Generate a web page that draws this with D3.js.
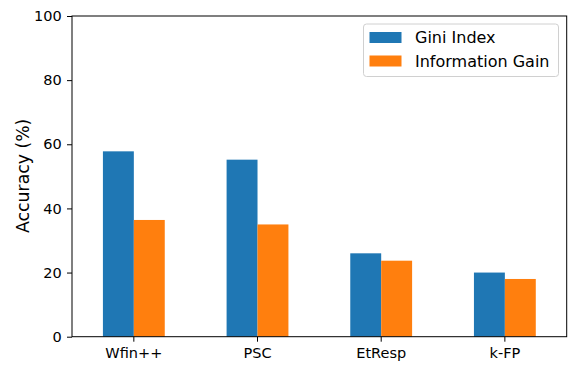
<!DOCTYPE html>
<html><head><meta charset="utf-8">
<script src="https://cdn.jsdelivr.net/npm/d3@7"></script>
<style>body{margin:0;background:#fff}svg{display:block}text{font-family:"DejaVu Sans",sans-serif;fill:#000}</style>
</head><body><svg id="c" width="582" height="372"></svg>
<script>
const categories = ["Wfin++", "PSC", "EtResp", "k-FP"];
const seriesNames = ["Gini Index", "Information Gain"];
const giniIndex = [57.8, 55.2, 26.0, 20.0];
const infoGain = [36.4, 35.0, 23.7, 18.0];
const yTicks = [0, 20, 40, 60, 80, 100];
const colors = ["#1f77b4", "#ff7f0e"];

const svg = d3.select("#c");
const L = 72, R = 566.7, T = 16, B = 336.7;
const x = d3.scaleBand().domain(categories).range([L, R]).paddingInner(0.5).paddingOuter(0.25);
const xs = d3.scaleBand().domain(seriesNames).range([0, x.bandwidth()]);
const y = d3.scaleLinear().domain([0, 100]).range([B, T]);
const series = [giniIndex, infoGain];

const g = svg.append("g");
series.forEach((vals, si) => {
  g.selectAll(null).data(categories).enter().append("rect")
    .attr("x", d => x(d) + xs(seriesNames[si]))
    .attr("width", xs.bandwidth())
    .attr("y", (d, i) => y(vals[i]))
    .attr("height", (d, i) => B - y(vals[i]))
    .attr("fill", colors[si]);
});

const yAxis = svg.append("g").attr("transform", `translate(${L},0)`)
  .call(d3.axisLeft(y).tickValues(yTicks).tickSize(5).tickPadding(5.3));
const xAxis = svg.append("g").attr("transform", `translate(0,${B})`)
  .call(d3.axisBottom(x).tickSize(5).tickPadding(6.3));
[yAxis, xAxis].forEach(a => {
  a.select(".domain").remove();
  a.selectAll("line").attr("stroke", "#000").attr("stroke-width", 1);
  a.selectAll("text").attr("font-size", 14.5).attr("font-family", "DejaVu Sans").attr("fill", "#000");
});
svg.append("rect").attr("x", L).attr("y", T).attr("width", R - L).attr("height", B - T)
  .attr("fill", "none").attr("stroke", "#000").attr("stroke-width", 1);

svg.append("text").attr("transform", `translate(28.5,175.8) rotate(-90)`)
  .attr("text-anchor", "middle").attr("font-size", 17.3).text("Accuracy (%)");

const lg = svg.append("g");
lg.append("rect").attr("x", 363.5).attr("y", 24).attr("width", 195).attr("height", 52.5)
  .attr("rx", 3).attr("fill", "#fff").attr("fill-opacity", 0.8).attr("stroke", "#d0d0d0");
seriesNames.forEach((n, i) => {
  lg.append("rect").attr("x", 369.5).attr("y", 32 + i * 23.5).attr("width", 32).attr("height", 11).attr("fill", colors[i]);
  lg.append("text").attr("x", 415).attr("y", 42.5 + i * 24.5).attr("font-size", 16).text(n);
});
</script></body></html>
